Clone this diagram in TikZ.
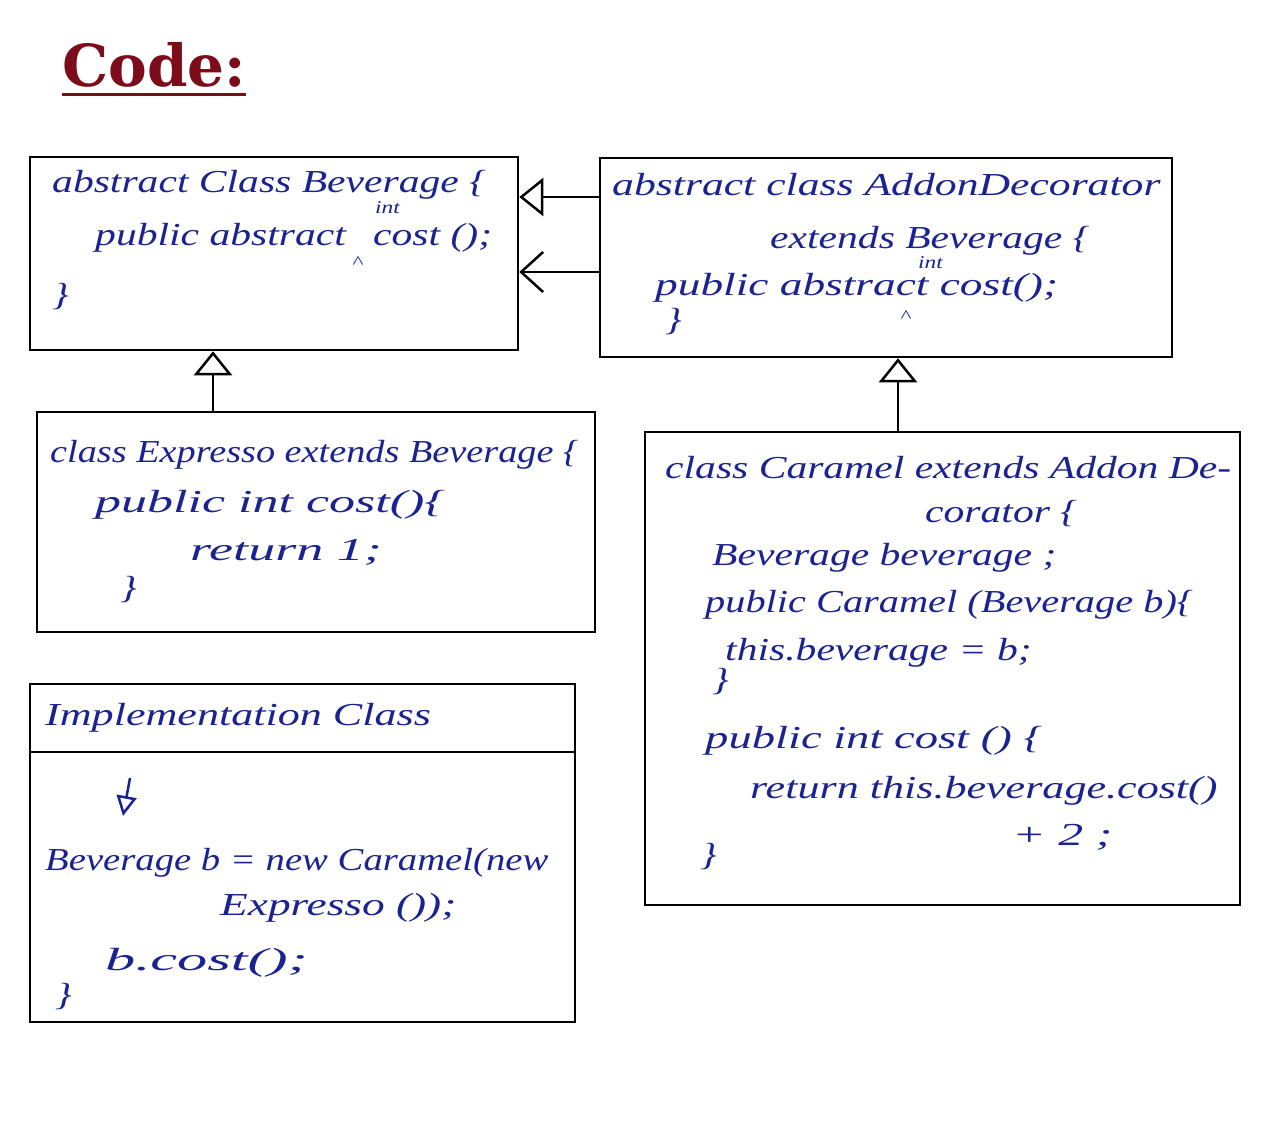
\documentclass[tikz,border=0pt]{standalone}
\usepackage{fontspec}
\usepackage{graphicx}
\usetikzlibrary{arrows.meta}
\newfontfamily\handfont[FakeStretch=1.3]{Liberation Serif}
\newfontfamily\titlefam{DejaVu Serif}
\definecolor{ink}{HTML}{1A2390}
\definecolor{maroon}{HTML}{7D0C1B}
\newcommand{\sx}[2]{\scalebox{#1}[1]{#2}}
\tikzset{
  box/.style={draw=black, line width=2.5pt, rectangle, inner sep=0pt},
  hand/.style={anchor=base west, inner sep=0pt, text=ink, font=\handfont\itshape\fontsize{32}{36}\selectfont},
  small/.style={anchor=base west, inner sep=0pt, text=ink, font=\handfont\itshape\fontsize{18}{20}\selectfont},
  gen/.style={draw=black, line width=2.5pt, -{Triangle[open, length=24pt, width=38pt, line width=2.5pt]}},
  assoc/.style={draw=black, line width=2.5pt, -{Straight Barb[length=22pt, width=40pt, line width=2.5pt]}},
}
\begin{document}
\begin{tikzpicture}[x=1pt,y=-1pt]
\useasboundingbox[fill=white] (0,0) rectangle (1280,1124);

% title
\node[anchor=base west, inner sep=0pt, text=maroon, font=\titlefam\bfseries\fontsize{58}{66}\selectfont] (title) at (62,86) {Code:};
\draw[maroon, line width=3pt] ([yshift=-8pt]title.base west) -- ([yshift=-8pt]title.base east);

% boxes
\node[box, minimum width=488pt, minimum height=193pt] (bev) at (274,253.5) {};
\node[box, minimum width=572pt, minimum height=199pt] (add) at (886,257.5) {};
\node[box, minimum width=558pt, minimum height=220pt] (exp) at (316,522) {};
\node[box, minimum width=595pt, minimum height=473pt] (car) at (942.5,668.5) {};
\node[box, minimum width=545pt, minimum height=338pt] (impl) at (302.5,853) {};
\draw[line width=2.5pt] (impl.west |- 0,752) -- (impl.east |- 0,752);

% Beverage
\node[hand] (b1) at (52,192) {abstract Class Beverage \{};
\node[hand] (b2) at (95,245) {public abstract};
\node[hand] (b3) at (373,245) {cost ();};
\node[small] (b4) at (375,213) {int};
\node[small] (b5) at (352,268) {\textasciicircum};
\node[hand] (b6) at (52,305) {\}};

% AddonDecorator
\node[hand] (a1) at (612,195) {\sx{1.05}{abstract class AddonDecorator}};
\node[hand] (a2) at (770,248) {extends Beverage \{};
\node[small] (a3) at (918,268) {int};
\node[hand] (a4) at (655,295) {\sx{1.09}{public abstract cost();}};
\node[small] (a5) at (900,322) {\textasciicircum};
\node[hand] (a6) at (665,330) {\}};

% Expresso
\node[hand] (e1) at (50,462) {\sx{0.92}{class Expresso extends Beverage \{}};
\node[hand] (e2) at (95,512) {\sx{1.25}{public int cost()\{}};
\node[hand] (e3) at (190,560) {\sx{1.3}{return 1;}};
\node[hand] (e4) at (120,598) {\}};

% Caramel
\node[hand] (c1) at (665,478) {class Caramel extends Addon De-};
\node[hand] (c2) at (925,522) {corator \{};
\node[hand] (c3) at (712,565) {Beverage beverage ;};
\node[hand] (c4) at (705,612) {\sx{0.97}{public Caramel (Beverage b)\{}};
\node[hand] (c5) at (725,660) {this.beverage = b;};
\node[hand] (c6) at (712,690) {\}};
\node[hand] (c7) at (705,748) {\sx{1.12}{public int cost () \{}};
\node[hand] (c8) at (750,798) {\sx{1.06}{return this.beverage.cost()}};
\node[hand] (c9) at (1012,845) {\sx{1.2}{+ 2 ;}};
\node[hand] (c10) at (700,865) {\}};

% Implementation
\node[hand] (i1) at (45,725) {\sx{1.06}{Implementation Class}};
\coordinate (ia) at (130,778);
\coordinate (ib) at (123,816);
\draw[ink, line width=2.5pt, -{Triangle[open, length=20pt, width=20pt, line width=2.5pt]}] (ia) -- (ib);
\node[hand] (i2) at (45,870) {\sx{0.93}{Beverage b = new Caramel(new}};
\node[hand] (i3) at (220,915) {\sx{1.09}{Expresso ());}};
\node[hand] (i4) at (105,970) {\sx{1.45}{b.cost();}};
\node[hand] (i5) at (55,1005) {\}};

% connectors
\draw[gen] (add.west |- 0,197) -- (bev.east |- 0,197);
\draw[assoc] (add.west |- 0,272) -- (bev.east |- 0,272);
\draw[gen] (exp.north -| 213,0) -- (bev.south -| 213,0);
\draw[gen] (car.north -| 898,0) -- (add.south -| 898,0);
\end{tikzpicture}
\end{document}
